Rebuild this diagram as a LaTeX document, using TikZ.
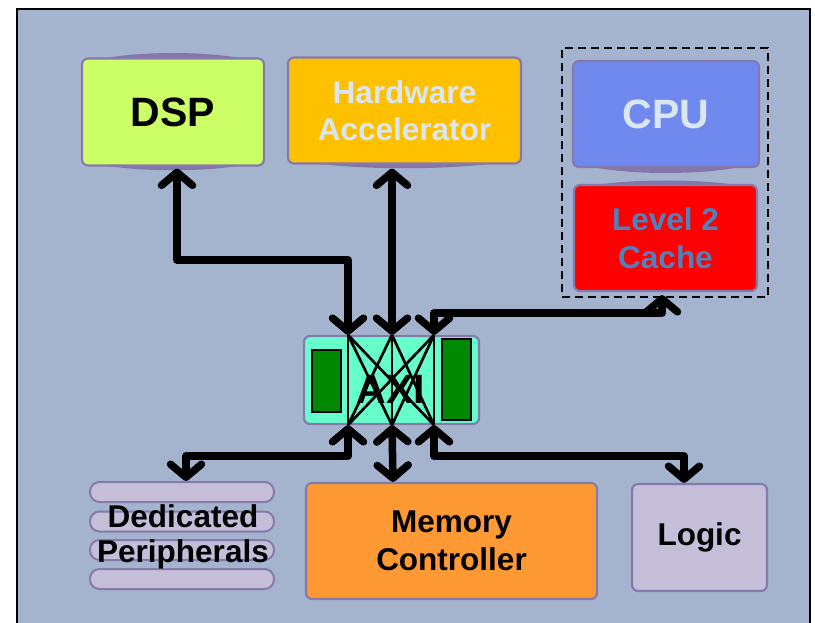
\documentclass[tikz,border=0pt]{standalone}
\usepackage{fontspec}
\setmainfont{Liberation Sans}
\usetikzlibrary{arrows.meta,calc}
\definecolor{bgc}{RGB}{164,180,206}
\definecolor{edgec}{RGB}{134,122,172}
\definecolor{lensc}{RGB}{132,118,170}
\definecolor{dspc}{RGB}{204,255,102}
\definecolor{hwc}{RGB}{255,192,0}
\definecolor{cpuc}{RGB}{112,137,238}
\definecolor{lighttxt}{RGB}{218,230,242}
\definecolor{ltwotxt}{RGB}{79,129,189}
\definecolor{axic}{RGB}{102,255,204}
\definecolor{greenc}{RGB}{0,136,0}
\definecolor{lavc}{RGB}{196,190,216}
\definecolor{memc}{RGB}{255,153,51}
\begin{document}
\begin{tikzpicture}[x=1pt,y=-1pt,
  box/.style={draw=edgec, line width=2.2pt, rounded corners=6pt, inner sep=0pt, align=center,
    font=\bfseries\fontsize{31.5}{37.5}\selectfont},
  big/.style={font=\bfseries\fontsize{41}{45}\selectfont},
  lens/.style={fill=lensc},
  pill/.style={draw=edgec, fill=lavc, line width=2pt, rounded corners=9.5pt,
    minimum width=184pt, minimum height=20pt, inner sep=0pt},
  greenbox/.style={draw=black, fill=greenc, line width=2.2pt, minimum width=29pt, inner sep=0pt},
  conn/.style={line width=7.5pt, line join=round, <->},
  xline/.style={line width=2.7pt},
  >={Straight Barb[length=13pt,width=31pt,round]}]
\useasboundingbox (0,0) rectangle (815,623);
\fill[white] (0,0) rectangle (815,623);
\fill[bgc] (17,9) rectangle (810,623);
\draw[line width=2.5pt] (17,630) -- (17,9) -- (810,9) -- (810,630);

% lenses
\fill[lens] (88,62) .. controls (130,50) and (216,50) .. (258,62) -- cycle;
\fill[lens] (88,162) .. controls (130,173) and (216,173) .. (258,162) -- cycle;
\fill[lens] (294,160) .. controls (350,171) and (460,171) .. (515,160) -- cycle;
\fill[lens] (580,164) .. controls (620,176) and (712,176) .. (752,164) -- cycle;
\fill[lens] (580,188) .. controls (620,178) and (712,178) .. (752,188) -- cycle;

% boxes
\node[box, big, fill=dspc, minimum width=182pt, minimum height=107pt] (dsp) at (173,112) {DSP};
\node[box, fill=hwc, text=lighttxt, minimum width=233pt, minimum height=106pt] (hwa) at (404.5,110.5) {Hardware\\Accelerator};
\node[draw, line width=2pt, dash pattern=on 8pt off 5pt, minimum width=206pt, minimum height=249pt, inner sep=0pt] (grp) at (665,172.5) {};
\node[box, big, fill=cpuc, text=lighttxt, minimum width=186pt, minimum height=106pt] (cpu) at (666,114) {CPU};
\node[box, fill=red, text=ltwotxt, minimum width=183pt, minimum height=106pt] (ltwo) at (665.5,238) {Level 2\\Cache};

% AXI
\node[box, fill=axic, minimum width=175pt, minimum height=88pt] (axi) at (391.5,380) {};
\node[greenbox, minimum height=62pt] (gl) at (326.5,381) {};
\node[greenbox, minimum height=81pt] (gr) at (456.5,379.5) {};
\coordinate (t1) at ($(axi.north)+(-43.5,0)$);
\coordinate (t2) at ($(axi.north)+(0.5,0)$);
\coordinate (t3) at ($(axi.north)+(42.5,0)$);
\coordinate (b1) at ($(axi.south)+(-43.5,0)$);
\coordinate (b2) at ($(axi.south)+(0.5,0)$);
\coordinate (b3) at ($(axi.south)+(42.5,0)$);
\foreach \a in {t1,t2,t3}{\foreach \b in {b1,b2,b3}{\draw[xline] (\a) -- (\b);}}
\node[big, anchor=base] (axit) at (391,403) {AXI};

% bottom row
\node[pill] (p1) at (182,492) {};
\node[pill] (p2) at (182,521.5) {};
\node[pill] (p3) at (182,550) {};
\node[pill] (p4) at (182,579) {};
\node[align=center, inner sep=0pt, font=\bfseries\fontsize{31.5}{35}\selectfont] (per) at (183,537) {Dedicated\\Peripherals};
\node[box, fill=memc, minimum width=291pt, minimum height=116pt] (mem) at (451.5,541) {Memory\\Controller};
\node[box, fill=lavc, minimum width=135pt, minimum height=107pt] (logic) at (699.5,537.5) {Logic};

% ports
\coordinate (dspP) at ($(dsp.south)+(4,2)$);
\coordinate (hwP) at ($(hwa.south)+(-12.5,4)$);
\coordinate (ltwoP) at ($(ltwo.south)+(-3.5,3)$);
\coordinate (perP) at ($(p1.north)+(4,0)$);
\coordinate (memP) at ($(mem.north)+(-58.5,0)$);
\coordinate (logP) at ($(logic.north)+(-15.5,0)$);

% connectors
\draw[conn] (dspP) |- (348,260) -- (t1);
\draw[conn] (hwP) -- (t2);
\draw[conn] (t3) |- (662,313) -- (ltwoP);
\draw[conn] (b1) |- (186,456) -- (perP);
\draw[conn] (b2) -- (memP);
\draw[conn] (b3) |- (684,456) -- (logP);
\end{tikzpicture}
\end{document}
